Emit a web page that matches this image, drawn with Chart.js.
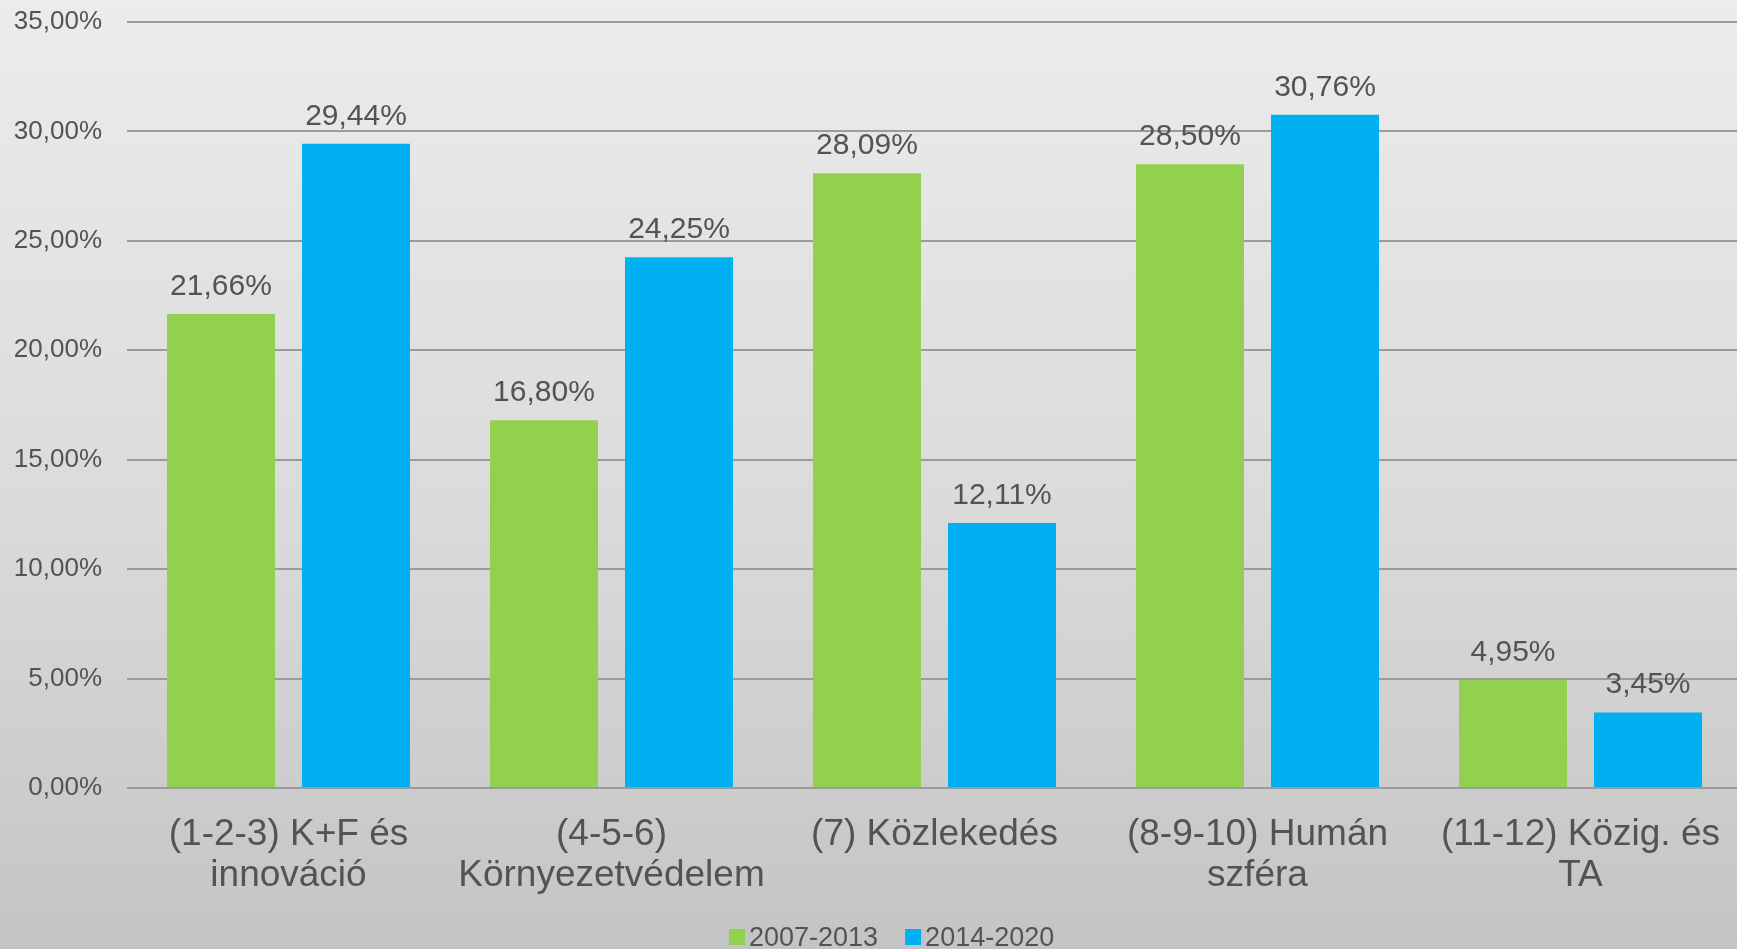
<!DOCTYPE html>
<html>
<head>
<meta charset="utf-8">
<script src="https://cdn.jsdelivr.net/npm/chart.js@4.4.1/dist/chart.umd.min.js"></script>
<style>
  html, body { margin: 0; padding: 0; overflow: hidden; }
  body { width: 1737px; height: 949px; background: linear-gradient(to bottom, #ececec 0%, #dadada 55%, #c4c4c4 100%); }
  #wrap { position: absolute; left: 0; top: 0; width: 1746px; height: 949px; }
</style>
</head>
<body>
<div id="wrap"><canvas id="c"></canvas></div>
<script>
// ---- data ----
const categories = [
  ["(1-2-3) K+F és", "innováció"],
  ["(4-5-6)", "Környezetvédelem"],
  "(7) Közlekedés",
  ["(8-9-10) Humán", "szféra"],
  ["(11-12) Közig. és", "TA"]
];
const seriesNames = ["2007-2013", "2014-2020"];
const values2007 = [21.66, 16.80, 28.09, 28.50, 4.95];
const values2014 = [29.44, 24.25, 12.11, 30.76, 3.45];
const yTicks = [0, 5, 10, 15, 20, 25, 30, 35];

const colors = ["#92d050", "#00b0f0"];
const textColor = "#535353";
const fontFamily = "'Liberation Sans', Arial, sans-serif";

function fmt(v) { return v.toFixed(2).replace('.', ',') + '%'; }

const dataLabels = {
  id: 'dataLabels',
  afterDatasetsDraw(chart) {
    const ctx = chart.ctx;
    ctx.save();
    ctx.font = "30px " + fontFamily;
    ctx.fillStyle = textColor;
    ctx.textAlign = 'center';
    ctx.textBaseline = 'alphabetic';
    chart.data.datasets.forEach((ds, i) => {
      chart.getDatasetMeta(i).data.forEach((bar, j) => {
        ctx.fillText(fmt(ds.data[j]), bar.x, bar.y - 19);
      });
    });
    ctx.restore();
  }
};

const customLegend = {
  id: 'customLegend',
  afterDraw(chart) {
    const ctx = chart.ctx;
    ctx.save();
    ctx.font = "27px " + fontFamily;
    ctx.textBaseline = 'alphabetic';
    ctx.textAlign = 'left';
    let x = 729;
    const boxTop = 929, box = 16, baseline = 946;
    chart.data.datasets.forEach((ds, i) => {
      ctx.fillStyle = ds.backgroundColor;
      ctx.fillRect(x, boxTop, box, box);
      x += box + 4;
      ctx.fillStyle = textColor;
      ctx.fillText(ds.label, x, baseline);
      x += ctx.measureText(ds.label).width + 27;
    });
    ctx.restore();
  }
};

new Chart(document.getElementById('c'), {
  type: 'bar',
  data: {
    labels: categories,
    datasets: [
      { label: seriesNames[0], data: values2007, backgroundColor: colors[0] },
      { label: seriesNames[1], data: values2014, backgroundColor: colors[1] }
    ]
  },
  options: {
    responsive: true,
    maintainAspectRatio: false,
    animation: false,
    devicePixelRatio: 1,
    categoryPercentage: 0.836,
    barPercentage: 0.8,
    layout: { padding: { left: 0, right: 0, top: 22, bottom: 0 } },
    plugins: {
      legend: { display: false },
      tooltip: { enabled: false }
    },
    scales: {
      x: {
        grid: { display: false, drawTicks: false },
        border: { display: false },
        ticks: {
          autoSkip: false,
          maxRotation: 0,
          minRotation: 0,
          padding: 26,
          color: textColor,
          font: { family: fontFamily, size: 37, lineHeight: 41 / 37 }
        },
        afterFit(scale) { scale.height = 161; }
      },
      y: {
        min: 0,
        max: 35,
        afterBuildTicks(scale) { scale.ticks = yTicks.map(v => ({ value: v })); },
        grid: { color: '#9b9b9b', lineWidth: 2, drawTicks: false },
        border: { display: false },
        ticks: {
          padding: 25,
          color: textColor,
          font: { family: fontFamily, size: 26 },
          callback: (v) => fmt(v)
        },
        afterFit(scale) { scale.width = 127; scale.paddingTop = 0; scale.paddingBottom = 0; }
      }
    }
  },
  plugins: [dataLabels, customLegend]
});
</script>
</body>
</html>
